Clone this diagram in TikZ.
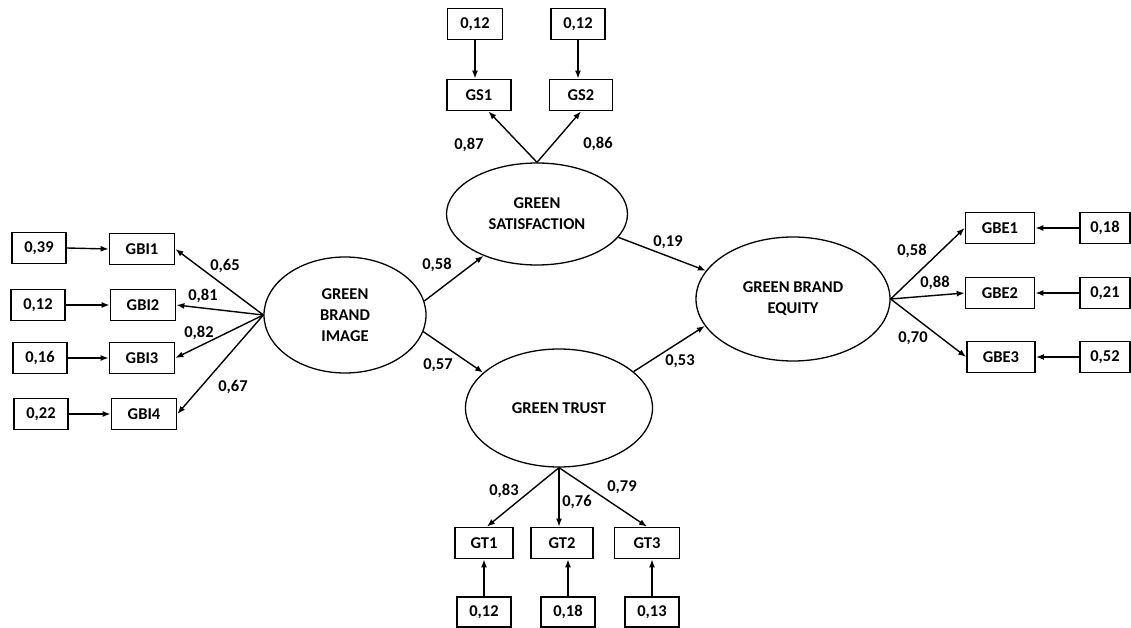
\documentclass[tikz,border=0pt]{standalone}
\usepackage{fontspec}
\setmainfont{Carlito}
\usetikzlibrary{shapes.geometric,arrows.meta}
\begin{document}
\begin{tikzpicture}[x=1pt,y=-1pt,
  font=\fontsize{16.5}{21}\selectfont\bfseries,
  box/.style={draw,line width=1.7pt,minimum height=31pt,inner sep=0pt},
  err/.style={box,minimum width=54pt},
  ind/.style={box,minimum width=65pt},
  lat/.style={draw,ellipse,line width=1.3pt,inner sep=0pt,align=center},
  arr/.style={line width=1.4pt,-{Latex[length=8pt,width=6pt]}},
  lbl/.style={inner sep=0pt}]
\useasboundingbox (0,0) rectangle (1131,628);
% latent variables
\node[lat,minimum width=162pt,minimum height=116pt] (gbi) at (345,315) {GREEN\\BRAND\\IMAGE};
\node[lat,minimum width=181pt,minimum height=102pt] (gs) at (537,214) {GREEN\\SATISFACTION};
\node[lat,minimum width=187pt,minimum height=118pt] (gt) at (559,408) {GREEN TRUST};
\node[lat,minimum width=194pt,minimum height=124pt] (gbe) at (793,299) {GREEN BRAND\\EQUITY};
% GBI indicators
\node[ind] (gbi1) at (142,249) {GBI1};
\node[ind] (gbi2) at (143,305) {GBI2};
\node[ind] (gbi3) at (142,358) {GBI3};
\node[ind] (gbi4) at (144,414) {GBI4};
\node[err] (e1) at (39,248) {0,39};
\node[err] (e2) at (38,305) {0,12};
\node[err] (e3) at (40,358) {0,16};
\node[err] (e4) at (41,414) {0,22};
% GS indicators
\node[ind,minimum width=64pt] (gs1) at (479,95) {GS1};
\node[ind,minimum width=63pt] (gs2) at (581,95) {GS2};
\node[err,minimum width=55pt] (e5) at (475,24) {0,12};
\node[err] (e6) at (578,24) {0,12};
% GT indicators
\node[ind,minimum width=58pt] (gt1) at (484,543) {GT1};
\node[ind,minimum width=62pt] (gt2) at (562,543) {GT2};
\node[ind,minimum width=65pt] (gt3) at (647,543) {GT3};
\node[err,minimum height=30pt] (e7) at (484,612) {0,12};
\node[err,minimum height=30pt] (e8) at (568,612) {0,18};
\node[err,minimum height=30pt] (e9) at (652,612) {0,13};
% GBE indicators
\node[ind,minimum width=69pt] (gbe1) at (1000,228) {GBE1};
\node[ind,minimum width=69pt] (gbe2) at (1000,293) {GBE2};
\node[ind,minimum width=68pt] (gbe3) at (1001,357) {GBE3};
\node[err,minimum width=50pt] (e10) at (1105,228) {0,18};
\node[err,minimum width=50pt] (e11) at (1105,293) {0,21};
\node[err,minimum width=50pt] (e12) at (1105,357) {0,52};
% error arrows
\foreach \e/\i in {e1/gbi1,e2/gbi2,e3/gbi3,e4/gbi4}
  \draw[arr] (\e.east) -- (\i.west);
\draw[arr] (e5.south) -- (e5.south |- gs1.north);
\draw[arr] (e6.south) -- (e6.south |- gs2.north);
\draw[arr] (e7.north) -- (gt1.south);
\draw[arr] (e8.north) -- (e8.north |- gt2.south);
\draw[arr] (e9.north) -- (e9.north |- gt3.south);
\foreach \e/\i in {e10/gbe1,e11/gbe2,e12/gbe3}
  \draw[arr] (\e.west) -- (\i.east);
% loadings
\foreach \i in {gbi1,gbi2,gbi3,gbi4}
  \draw[arr] (gbi.west) -- (\i.east);
\draw[arr] (gs.north) -- (gs1.-60);
\draw[arr] (gs.north) -- (gs2.south);
\draw[arr] (gt.south) -- (gt1.80);
\draw[arr] (gt.south) -- (gt.south |- gt2.north);
\draw[arr] (gt.south) -- (gt3.north);
\foreach \i in {gbe1,gbe2,gbe3}
  \draw[arr] (gbe.east) -- (\i.west);
% structural paths
\draw[arr] (gbi.10) -- (gs.218);
\draw[arr] (gbi.-12) -- (gt.155);
\draw[arr] (gs.-16) -- (gbe.162);
\draw[arr] (gt.26) -- (gbe.197);
% labels
\node[lbl] (l1) at (225,266) {0,65};
\node[lbl] (l2) at (203,296) {0,81};
\node[lbl] (l3) at (199,333) {0,82};
\node[lbl] (l4) at (233,387) {0,67};
\node[lbl] (l5) at (469,145) {0,87};
\node[lbl] (l6) at (598,144) {0,86};
\node[lbl] (l7) at (437,265) {0,58};
\node[lbl] (l8) at (438,365) {0,57};
\node[lbl] (l9) at (668,242) {0,19};
\node[lbl] (l10) at (680,361) {0,53};
\node[lbl] (l11) at (504,491) {0,83};
\node[lbl] (l12) at (577,502) {0,76};
\node[lbl] (l13) at (622,487) {0,79};
\node[lbl] (l14) at (912,251) {0,58};
\node[lbl] (l15) at (935,283) {0,88};
\node[lbl] (l16) at (913,338) {0,70};
\end{tikzpicture}
\end{document}
